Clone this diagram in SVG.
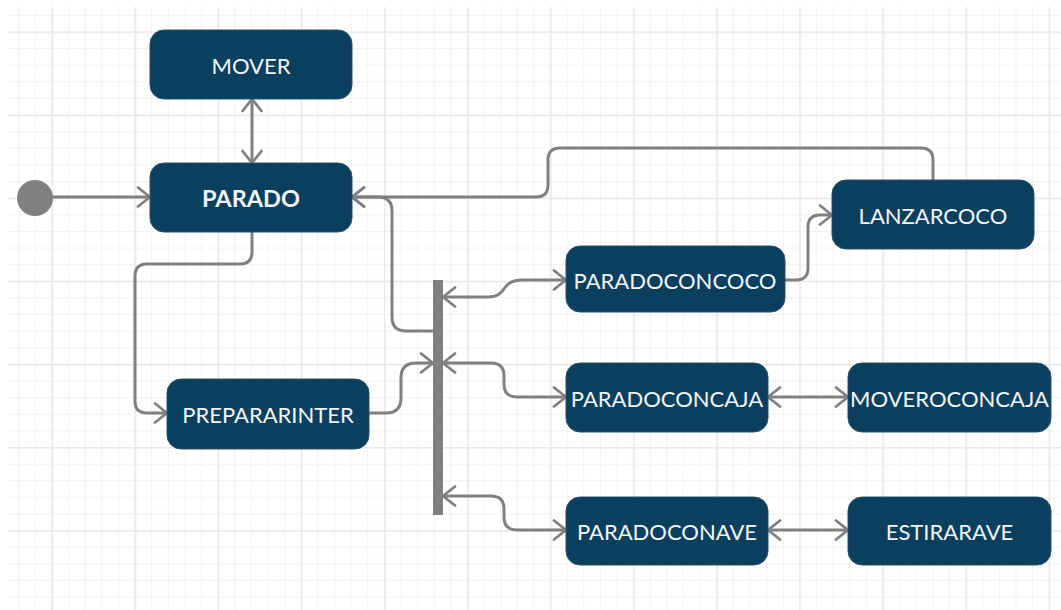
<svg xmlns="http://www.w3.org/2000/svg" width="1061" height="610" viewBox="0 0 1061 610">
  <defs>
    <pattern id="gridMinor" patternUnits="userSpaceOnUse" x="51.5" y="31.5" width="16.62" height="16.62">
      <rect x="0" y="0" width="1" height="16.62" fill="#f2f2f2"/>
      <rect x="0" y="0" width="16.62" height="1" fill="#f2f2f2"/>
    </pattern>
    <pattern id="gridMajor" patternUnits="userSpaceOnUse" x="51.5" y="31.5" width="83.1" height="83.1">
      <rect x="0" y="0" width="1.5" height="83.1" fill="#e8e8e8"/>
      <rect x="0" y="0" width="83.1" height="1.5" fill="#e8e8e8"/>
    </pattern>
    <marker id="open" viewBox="0 0 16 22" refX="14" refY="11" markerWidth="16" markerHeight="22" markerUnits="userSpaceOnUse" orient="auto-start-reverse">
      <path d="M2 1.5 L14 11 L2 20.5" fill="none" stroke="#808080" stroke-width="2.8" stroke-linecap="round" stroke-linejoin="round"/>
    </marker>
    <style>
      .node rect { fill: #0b3f5e; stroke: #28546f; stroke-width: 1; }
      .node text { fill: #f2f5f8; font-family: Lato, "Open Sans", sans-serif; font-size: 22px; text-anchor: middle; dominant-baseline: central; }
      .node text.bold { font-weight: bold; font-size: 23.5px; }
      .edge { fill: none; stroke: #808080; stroke-width: 3; stroke-linecap: round; stroke-linejoin: round; }
      .end { marker-end: url(#open); }
      .both { marker-start: url(#open); marker-end: url(#open); }
    </style>
  </defs>

  <!-- background grid -->
  <rect x="0" y="0" width="1061" height="610" fill="#ffffff"/>
  <rect x="8" y="7" width="1053" height="603" fill="url(#gridMinor)"/>
  <rect x="8" y="7" width="1053" height="603" fill="url(#gridMajor)"/>

  <!-- connectors -->
  <g id="connectors">
    <path class="edge both" d="M252 99 V163"/>
    <path class="edge end" d="M53 197 H150"/>
    <path class="edge end" d="M933 180 V160 Q933 148 921 148 H560 Q548 148 548 160 V185 Q548 197 536 197 H352"/>
    <path class="edge end" d="M433 331 H406 Q392 331 392 317 V211 Q392 197 378 197 H352"/>
    <path class="edge end" d="M252 232 V252 Q252 264 240 264 H147 Q135 264 135 276 V401 Q135 413 147 413 H167"/>
    <path class="edge end" d="M369 413 H386 Q401 413 401 398 V378 Q401 363 416 363 H433"/>
    <path class="edge both" d="M443 297 H488 C508 297 500 280 522 280 H566"/>
    <path class="edge both" d="M443 363 H491 Q504 363 504 376 V384 Q504 397 517 397 H566"/>
    <path class="edge both" d="M443 496 H491 Q504 496 504 509 V517 Q504 530 517 530 H566"/>
    <path class="edge end" d="M784 280 H796 Q808 280 808 268 V227 Q808 215 820 215 H832"/>
    <path class="edge both" d="M768 397 H848"/>
    <path class="edge both" d="M768 530 H848"/>
  </g>

  <!-- initial state -->
  <g id="initial">
    <circle cx="35" cy="198" r="18" fill="#808080"/>
  </g>

  <!-- fork / join bar -->
  <g id="bar">
    <rect x="433" y="280" width="10" height="235" fill="#808080"/>
  </g>

  <g id="mover" class="node">
    <rect x="150" y="30" width="202" height="69" rx="14"/>
    <text x="251" y="65">MOVER</text>
  </g>
  <g id="parado" class="node">
    <rect x="150" y="163" width="202" height="69" rx="14"/>
    <text class="bold" x="251" y="198">PARADO</text>
  </g>
  <g id="prepararinter" class="node">
    <rect x="167" y="379" width="202" height="70" rx="14"/>
    <text x="268" y="414">PREPARARINTER</text>
  </g>
  <g id="paradoconcoco" class="node">
    <rect x="566" y="246" width="219" height="66" rx="14"/>
    <text x="675" y="280">PARADOCONCOCO</text>
  </g>
  <g id="paradoconcaja" class="node">
    <rect x="566" y="363" width="202" height="69" rx="14"/>
    <text x="667" y="398">PARADOCONCAJA</text>
  </g>
  <g id="paradoconave" class="node">
    <rect x="566" y="497" width="202" height="68" rx="14"/>
    <text x="667" y="531">PARADOCONAVE</text>
  </g>
  <g id="lanzarcoco" class="node">
    <rect x="832" y="180" width="202" height="69" rx="14"/>
    <text x="933" y="215">LANZARCOCO</text>
  </g>
  <g id="moveroconcaja" class="node">
    <rect x="848" y="363" width="203" height="69" rx="14"/>
    <text x="949.5" y="398">MOVEROCONCAJA</text>
  </g>
  <g id="estirarave" class="node">
    <rect x="848" y="497" width="203" height="68" rx="14"/>
    <text x="949.5" y="531">ESTIRARAVE</text>
  </g>
</svg>
